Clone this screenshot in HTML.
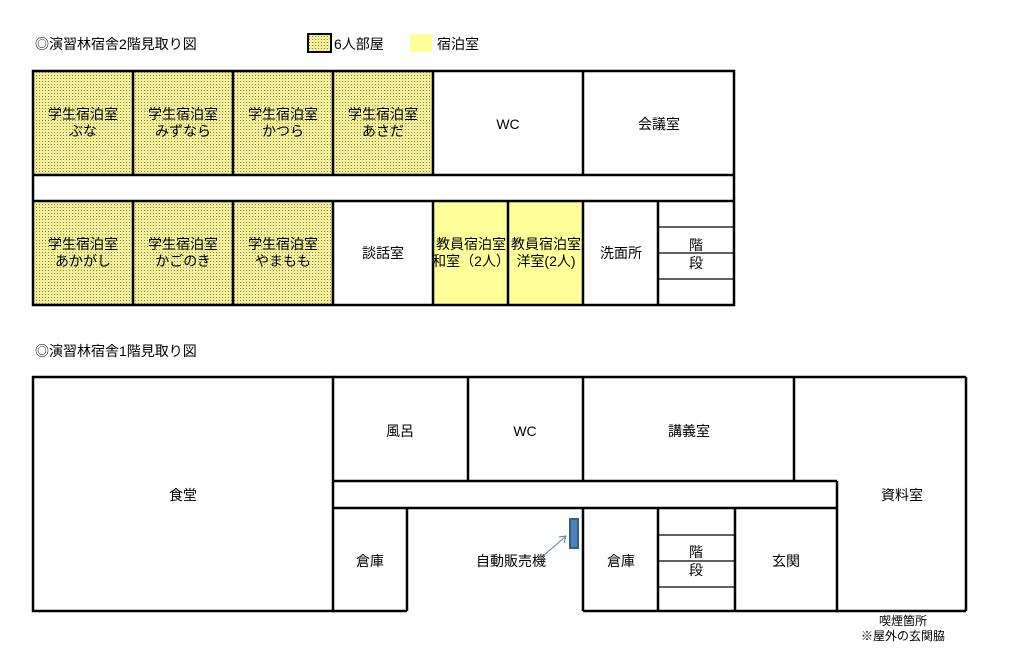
<!DOCTYPE html>
<html><head><meta charset="utf-8"><style>
html,body{margin:0;padding:0;background:#fff;}
svg{display:block;}
text{font-family:"Liberation Sans","Noto Sans CJK JP",sans-serif;font-size:14px;fill:#000;}
</style></head><body>
<svg width="1009" height="667" viewBox="0 0 1009 667" xmlns="http://www.w3.org/2000/svg">
<defs>
<pattern id="dots" width="3" height="3" patternUnits="userSpaceOnUse">
<rect width="3" height="3" fill="#f2ee9a"/>
<rect x="0" y="0" width="1" height="1" fill="#8a874e"/>
</pattern>
</defs>
<text x="35" y="49">◎演習林宿舎2階見取り図</text>
<rect x="308" y="34" width="23" height="18" fill="url(#dots)" stroke="#000" stroke-width="2"/>
<text x="334" y="49">6人部屋</text>
<rect x="410" y="34" width="22" height="18" fill="#ffff99"/>
<text x="437" y="49">宿泊室</text>

<g fill="url(#dots)">
<rect x="33" y="71" width="400" height="104"/>
<rect x="33" y="201" width="300" height="104"/>
</g>
<rect x="433" y="201" width="150" height="104" fill="#ffff99"/>
<g stroke="#000" stroke-width="2.5" fill="none">
<rect x="33" y="71" width="701" height="234"/>
<line x1="33" y1="175" x2="734" y2="175"/>
<line x1="33" y1="201" x2="734" y2="201"/>
<line x1="133" y1="71" x2="133" y2="175"/>
<line x1="233" y1="71" x2="233" y2="175"/>
<line x1="333" y1="71" x2="333" y2="175"/>
<line x1="433" y1="71" x2="433" y2="175"/>
<line x1="583" y1="71" x2="583" y2="175"/>
<line x1="133" y1="201" x2="133" y2="305"/>
<line x1="233" y1="201" x2="233" y2="305"/>
<line x1="333" y1="201" x2="333" y2="305"/>
<line x1="433" y1="201" x2="433" y2="305"/>
<line x1="508" y1="201" x2="508" y2="305"/>
<line x1="583" y1="201" x2="583" y2="305"/>
<line x1="658" y1="201" x2="658" y2="305"/>
</g>
<g stroke="#000" stroke-width="1.2">
<line x1="658" y1="227" x2="734" y2="227"/>
<line x1="658" y1="253" x2="734" y2="253"/>
<line x1="658" y1="279" x2="734" y2="279"/>
</g>
<g text-anchor="middle">
<text x="83" y="119">学生宿泊室</text><text x="83" y="136">ぶな</text>
<text x="183" y="119">学生宿泊室</text><text x="183" y="136">みずなら</text>
<text x="283" y="119">学生宿泊室</text><text x="283" y="136">かつら</text>
<text x="383" y="119">学生宿泊室</text><text x="383" y="136">あさだ</text>
<text x="508" y="129">WC</text>
<text x="659" y="129">会議室</text>
<text x="83" y="249">学生宿泊室</text><text x="83" y="266">あかがし</text>
<text x="183" y="249">学生宿泊室</text><text x="183" y="266">かごのき</text>
<text x="283" y="249">学生宿泊室</text><text x="283" y="266">やまもも</text>
<text x="383" y="258">談話室</text>
<text x="471" y="249">教員宿泊室</text><text x="471" y="266">和室（2人）</text>
<text x="546" y="249">教員宿泊室</text><text x="546" y="266">洋室(2人)</text>
<text x="621" y="258">洗面所</text>
<text x="696" y="250">階</text><text x="696" y="268">段</text>
</g>

<text x="35" y="356">◎演習林宿舎1階見取り図</text>
<g stroke="#000" stroke-width="2.5" fill="none">
<rect x="33" y="377" width="300" height="234"/>
<line x1="333" y1="377" x2="966" y2="377"/>
<line x1="966" y1="377" x2="966" y2="611"/>
<line x1="836" y1="611" x2="966" y2="611"/>
<line x1="333" y1="481" x2="837" y2="481"/>
<line x1="837" y1="481" x2="837" y2="611"/>
<line x1="333" y1="508" x2="837" y2="508"/>
<line x1="333" y1="611" x2="407" y2="611"/>
<line x1="583" y1="611" x2="837" y2="611"/>
<line x1="468" y1="377" x2="468" y2="481"/>
<line x1="583" y1="377" x2="583" y2="481"/>
<line x1="794" y1="377" x2="794" y2="481"/>
<line x1="407" y1="508" x2="407" y2="611"/>
<line x1="583" y1="508" x2="583" y2="611"/>
<line x1="658" y1="508" x2="658" y2="611"/>
<line x1="735" y1="508" x2="735" y2="611"/>
</g>
<g stroke="#000" stroke-width="1.2">
<line x1="658" y1="535" x2="735" y2="535"/>
<line x1="658" y1="561" x2="735" y2="561"/>
<line x1="658" y1="587" x2="735" y2="587"/>
</g>
<rect x="570" y="519" width="8" height="29" fill="#4f81bd" stroke="#385d8a" stroke-width="2"/>
<line x1="543" y1="556" x2="565" y2="537" stroke="#4a7ebb" stroke-width="1"/>
<polyline points="559,537 566,536 564,543" fill="none" stroke="#4a7ebb" stroke-width="1"/>
<g text-anchor="middle">
<text x="183" y="500">食堂</text>
<text x="400" y="436">風呂</text>
<text x="525" y="436">WC</text>
<text x="689" y="436">講義室</text>
<text x="902" y="500">資料室</text>
<text x="370" y="566">倉庫</text>
<text x="511" y="566">自動販売機</text>
<text x="621" y="566">倉庫</text>
<text x="696" y="557">階</text><text x="696" y="575">段</text>
<text x="786" y="566">玄関</text>
<text x="903" y="625" style="font-size:12px">喫煙箇所</text>
<text x="903" y="640" style="font-size:12px">※屋外の玄関脇</text>
</g>
</svg>
</body></html>
